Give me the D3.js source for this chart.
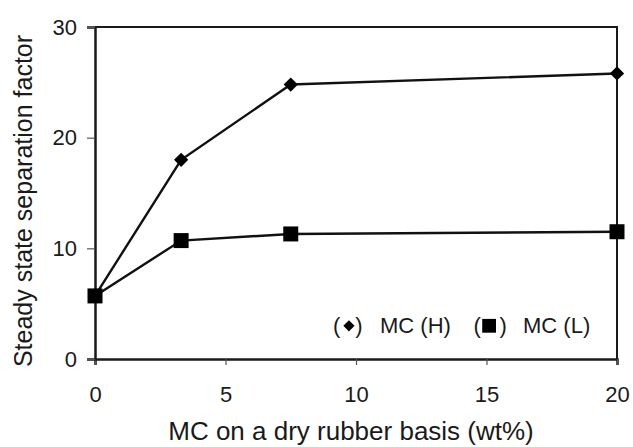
<!DOCTYPE html>
<html>
<head>
<meta charset="utf-8">
<script src="https://cdn.jsdelivr.net/npm/d3@7"></script>
<style>
  body { margin: 0; background: #fff; }
  text { font-family: Arial, "Liberation Sans", sans-serif; fill: #1a1a1a; }
</style>
</head>
<body>
<div id="chart"></div>
<script>
// data
const mcContent = [0, 3.3, 7.5, 20];
const sepHigh = [5.7, 18.0, 24.8, 25.8];
const sepLow = [5.7, 10.7, 11.3, 11.5];
const xTicks = [0, 5, 10, 15, 20];
const yTicks = [0, 10, 20, 30];

const width = 633, height = 447;
const margin = { top: 27, right: 16, bottom: 88, left: 95 };
const innerW = width - margin.left - margin.right;
const innerH = height - margin.top - margin.bottom;

const svg = d3.select("#chart").append("svg")
  .attr("width", width)
  .attr("height", height);

const g = svg.append("g")
  .attr("transform", `translate(${margin.left},${margin.top})`);

const x = d3.scaleLinear().domain([0, 20]).range([0, innerW]);
const y = d3.scaleLinear().domain([0, 30]).range([innerH, 0]);

// frame (top + right)
g.append("path")
  .attr("d", `M0,0H${innerW}V${innerH}`)
  .attr("fill", "none")
  .attr("stroke", "#1a1a1a")
  .attr("stroke-width", 2);

const xAxis = g.append("g")
  .attr("transform", `translate(0,${innerH})`)
  .call(d3.axisBottom(x).tickValues(xTicks).tickSize(6).tickPadding(21));
const yAxis = g.append("g")
  .call(d3.axisLeft(y).tickValues(yTicks).tickSize(8).tickPadding(10));

[xAxis, yAxis].forEach(a => {
  a.select(".domain").attr("stroke", "#1a1a1a").attr("stroke-width", 2.5);
  a.selectAll(".tick line").attr("stroke", "#555").attr("stroke-width", 1.2);
  a.selectAll(".tick text")
    .attr("font-size", 22)
    .attr("font-family", "Arial, 'Liberation Sans', sans-serif")
    .attr("fill", "#1a1a1a");
});

const line = d3.line()
  .x((d, i) => x(mcContent[i]))
  .y(d => y(d));

g.append("path")
  .datum(sepHigh)
  .attr("fill", "none")
  .attr("stroke", "#111")
  .attr("stroke-width", 2.4)
  .attr("d", line);

g.append("path")
  .datum(sepLow)
  .attr("fill", "none")
  .attr("stroke", "#111")
  .attr("stroke-width", 2.4)
  .attr("d", line);

// markers
const diamond = d3.symbol().type(d3.symbolDiamond2).size(130);
const square = d3.symbol().type(d3.symbolSquare).size(225);

g.selectAll(".pt-high")
  .data(sepHigh)
  .enter()
  .append("path")
  .attr("class", "pt-high")
  .attr("transform", (d, i) => `translate(${x(mcContent[i])},${y(d)})`)
  .attr("d", diamond)
  .attr("fill", "#000");

g.selectAll(".pt-low")
  .data(sepLow)
  .enter()
  .append("path")
  .attr("class", "pt-low")
  .attr("transform", (d, i) => `translate(${x(mcContent[i])},${y(d)})`)
  .attr("d", square)
  .attr("fill", "#000");

// legend
const legFont = 22;
const leg = g.append("g").attr("transform", `translate(0,${y(3)})`);
const legY = 7;
leg.append("text").attr("x", x(9.12)).attr("y", legY).attr("font-size", legFont).text("(");
leg.append("path")
  .attr("transform", `translate(${x(9.73)},0)`)
  .attr("d", d3.symbol().type(d3.symbolDiamond2).size(80))
  .attr("fill", "#000");
leg.append("text").attr("x", x(9.97)).attr("y", legY).attr("font-size", legFont).text(")");
leg.append("text").attr("x", x(10.92)).attr("y", legY).attr("font-size", legFont).text("MC (H)");
leg.append("text").attr("x", x(14.5)).attr("y", legY).attr("font-size", legFont).text("(");
leg.append("path")
  .attr("transform", `translate(${x(15.1)},0)`)
  .attr("d", d3.symbol().type(d3.symbolSquare).size(190))
  .attr("fill", "#000");
leg.append("text").attr("x", x(15.5)).attr("y", legY).attr("font-size", legFont).text(")");
leg.append("text").attr("x", x(16.4)).attr("y", legY).attr("font-size", legFont).text("MC (L)");

// axis titles
svg.append("text")
  .attr("x", 351)
  .attr("y", 440)
  .attr("text-anchor", "middle")
  .attr("font-size", 26)
  .text("MC on a dry rubber basis (wt%)");

svg.append("text")
  .attr("transform", `translate(32,201) rotate(-90)`)
  .attr("text-anchor", "middle")
  .attr("font-size", 25)
  .text("Steady state separation factor");
</script>
</body>
</html>
